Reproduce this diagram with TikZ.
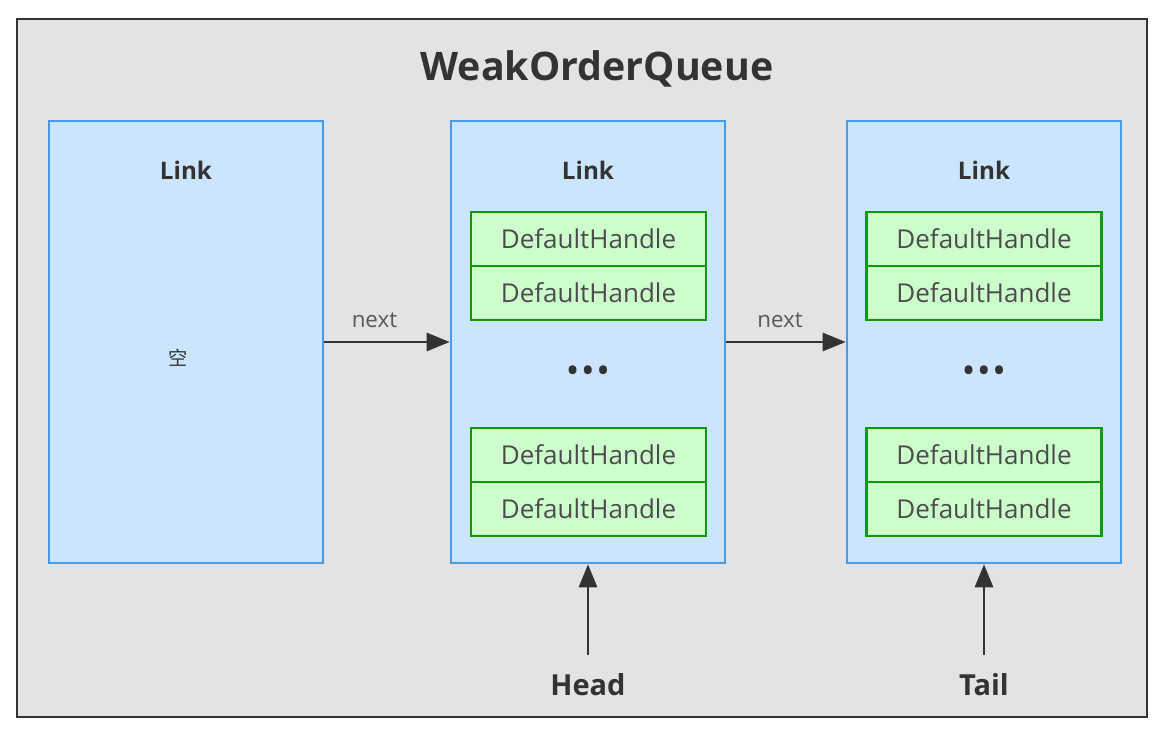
\documentclass[tikz,border=0pt]{standalone}
\usepackage{fontspec}
\setmainfont{Open Sans}
\newfontfamily\cjk{Noto Sans CJK SC}
\usetikzlibrary{positioning,arrows.meta}
\definecolor{fondo}{HTML}{E3E3E3}
\definecolor{marco}{HTML}{333333}
\definecolor{linkfill}{HTML}{CCE5FF}
\definecolor{linkdraw}{HTML}{4A9AE8}
\definecolor{dhfill}{HTML}{CCFFCC}
\definecolor{dhdraw}{HTML}{0A9A0A}
\definecolor{texto}{HTML}{333333}
\tikzset{
	cola/.style={font=\bfseries\fontsize{22.4}{26}\selectfont, text=texto},
	linkbox/.style={rectangle, draw=linkdraw, fill=linkfill, line width=1.5pt,
		minimum width=5.48cm, minimum height=8.84cm},
	linklbl/.style={font=\bfseries\fontsize{13.8}{16}\selectfont, text=texto},
	handle/.style={rectangle, draw=dhdraw, fill=dhfill, line width=1.3pt, 
		minimum width=4.7cm, minimum height=1.08cm, outer sep=0pt,
		text=black!70, font=\fontsize{14.8}{17}\selectfont},
	puntos/.style={font=\bfseries\fontsize{16}{18}\selectfont, text=texto},
	flecha/.style={draw=texto, line width=1.6pt, -{Triangle[length=0.46cm,width=0.36cm]}},
	etiq/.style={font=\fontsize{12.7}{15}\selectfont, text=black!65},
	puntero/.style={font=\bfseries\fontsize{16.5}{19}\selectfont, text=texto}
}
\begin{document}
\begin{tikzpicture}[x=0.02cm, y=-0.02cm, node distance=0.4cm]
			\useasboundingbox[fill=white] (0,0) rectangle (1166,732);
			\draw[fill=fondo, draw=marco, line width=1.3pt] (17,19) rectangle (1147,717);
			\node[cola] (titulo) at (597,69) {WeakOrderQueue};
			
			\node[linkbox] (l1) at (186,342) {};
			\node[linkbox] (l2) at (588,342) {};
			\node[linkbox] (l3) at (984,342) {};
			\node[linklbl, below=0.7cm of l1.north] (t1) {Link};
			\node[linklbl, below=0.7cm of l2.north] (t2) {Link};
			\node[linklbl, below=0.7cm of l3.north] (t3) {Link};
			\node[text=texto, font=\cjk\fontsize{11}{13}\selectfont] (vacio) at (178,358) {空};
			
			\node[handle] (h21) at (588.5,239) {DefaultHandle};
			\node[handle, below=0pt of h21] (h22) {DefaultHandle};
			\node[puntos] (d2) at (588,373) {•\,•\,•};
			\node[handle] (h23) at (588.5,455) {DefaultHandle};
			\node[handle, below=0pt of h23] (h24) {DefaultHandle};
			
			\node[handle] (h31) at (984,239) {DefaultHandle};
			\node[handle, below=0pt of h31] (h32) {DefaultHandle};
			\node[puntos] (d3) at (984,373) {•\,•\,•};
			\node[handle] (h33) at (984,455) {DefaultHandle};
			\node[handle, below=0pt of h33] (h34) {DefaultHandle};
			
			\draw[flecha] (l1) -- node[etiq, above=0.15cm, pos=0.4] (n1) {next} (l2);
			\draw[flecha] (l2) -- node[etiq, above=0.15cm, pos=0.45] (n2) {next} (l3);
			
			\node[puntero] (head) at (588,685) {Head};
			\node[puntero] (tail) at (984,685) {Tail};
			\draw[flecha, shorten <=0.26cm] (head) -- (l2);
			\draw[flecha, shorten <=0.26cm] (tail) -- (l3);
		\end{tikzpicture}
\end{document}
